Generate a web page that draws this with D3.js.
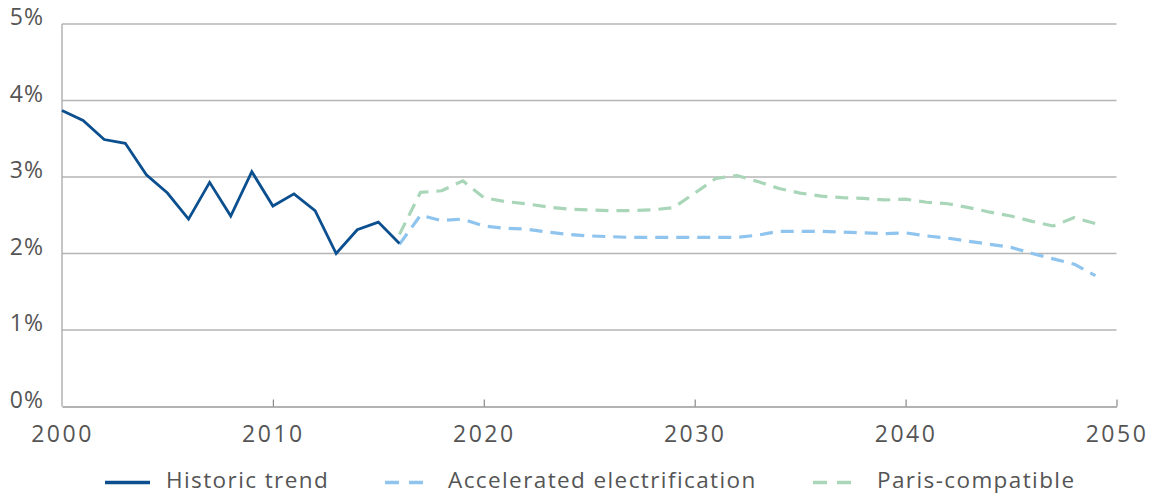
<!DOCTYPE html>
<html>
<head>
<meta charset="utf-8">
<script src="https://cdn.jsdelivr.net/npm/d3@7"></script>
<style>
  html, body { margin: 0; padding: 0; background: #fff; }
  svg { display: block; }
  text { font-family: "Open Sans", "Noto Sans", sans-serif; fill: #555; }
</style>
</head>
<body>
<svg id="chart" width="1157" height="497"></svg>
<script>
const historicYears = [2000,2001,2002,2003,2004,2005,2006,2007,2008,2009,2010,2011,2012,2013,2014,2015,2016];
const historicValues = [3.87,3.74,3.49,3.44,3.03,2.79,2.45,2.93,2.49,3.07,2.62,2.78,2.56,2.00,2.31,2.41,2.13];

const scenarioYears = [2016,2017,2018,2019,2020,2021,2022,2023,2024,2025,2026,2027,2028,2029,2030,2031,2032,2033,2034,2035,2036,2037,2038,2039,2040,2041,2042,2043,2044,2045,2046,2047,2048,2049];
const acceleratedValues = [2.12,2.50,2.43,2.45,2.36,2.33,2.32,2.28,2.25,2.23,2.22,2.21,2.21,2.21,2.21,2.21,2.21,2.24,2.29,2.29,2.29,2.28,2.27,2.26,2.27,2.23,2.20,2.16,2.12,2.08,2.00,1.93,1.86,1.71];
const parisValues = [2.25,2.80,2.82,2.95,2.73,2.68,2.65,2.61,2.58,2.57,2.56,2.56,2.57,2.60,2.79,2.98,3.02,2.94,2.85,2.79,2.75,2.73,2.72,2.70,2.71,2.67,2.65,2.60,2.54,2.49,2.42,2.36,2.47,2.39];

const xTicks = [2000,2010,2020,2030,2040,2050];
const yTicks = [0,1,2,3,4,5];
const yTickLabels = ["0%","1%","2%","3%","4%","5%"];

const seriesNames = ["Historic trend","Accelerated electrification","Paris-compatible"];
const seriesColors = ["#0b4f8f","#8ec4ee","#a9d6b8"];

const svg = d3.select("#chart");
const x = d3.scaleLinear().domain([2000, 2050]).range([62, 1116.5]);
const y = d3.scaleLinear().domain([0, 5]).range([406.5, 24]);

// gridlines
svg.append("g").selectAll("line").data(yTicks.filter(d => d > 0)).join("line")
  .attr("x1", x(2000)).attr("x2", x(2050))
  .attr("y1", d => y(d)).attr("y2", d => y(d))
  .attr("stroke", "#b5b5b5").attr("stroke-width", 1.3);

// left axis line
svg.append("line").attr("x1", x(2000)).attr("x2", x(2000))
  .attr("y1", y(5)).attr("y2", y(0)).attr("stroke", "#a8a8a8").attr("stroke-width", 1.3);

// bottom axis
const xAxis = d3.axisBottom(x).tickValues(xTicks).tickFormat(d3.format("d"))
  .tickSizeInner(-7).tickSizeOuter(0).tickPadding(25);
const gx = svg.append("g").attr("transform", `translate(0,${y(0)})`).call(xAxis);
gx.select(".domain").attr("stroke", "#999").attr("stroke-width", 1.5);
gx.selectAll(".tick line").attr("stroke", "#888").attr("stroke-width", 1.2)
  .filter(d => d === 2000).remove();
gx.selectAll(".tick text").attr("font-size", 23).attr("fill", "#555")
  .attr("font-family", "'Open Sans', sans-serif").attr("letter-spacing", 2.5).attr("dy", 0).attr("y", 35);

// y labels
svg.append("g").selectAll("text").data(yTicks).join("text")
  .attr("x", 44).attr("y", d => y(d) + 1)
  .attr("text-anchor", "end").attr("font-size", 23).attr("letter-spacing", 1)
  .text((d, i) => yTickLabels[i]);

// lines
const line = d3.line().x(d => x(d[0])).y(d => y(d[1]));
svg.append("path").datum(scenarioYears.map((yr, i) => [yr, parisValues[i]]))
  .attr("d", line).attr("fill", "none").attr("stroke", seriesColors[2])
  .attr("stroke-width", 3.2).attr("stroke-dasharray", "13,8").attr("stroke-linejoin", "round");
svg.append("path").datum(scenarioYears.map((yr, i) => [yr, acceleratedValues[i]]))
  .attr("d", line).attr("fill", "none").attr("stroke", seriesColors[1])
  .attr("stroke-width", 3.2).attr("stroke-dasharray", "13,8").attr("stroke-linejoin", "round");
svg.append("path").datum(historicYears.map((yr, i) => [yr, historicValues[i]]))
  .attr("d", line).attr("fill", "none").attr("stroke", seriesColors[0])
  .attr("stroke-width", 2.8).attr("stroke-linejoin", "miter");

// legend
const legendItems = [
  {name: seriesNames[0], color: seriesColors[0], x1: 105, x2: 150, tx: 166, dash: null},
  {name: seriesNames[1], color: seriesColors[1], x1: 385, x2: 427, tx: 448, dash: "14,10"},
  {name: seriesNames[2], color: seriesColors[2], x1: 813, x2: 852, tx: 877, dash: "14,10"}
];
const lg = svg.append("g");
legendItems.forEach(it => {
  lg.append("line").attr("x1", it.x1).attr("x2", it.x2).attr("y1", 482.5).attr("y2", 482.5)
    .attr("stroke", it.color).attr("stroke-width", 3.5)
    .attr("stroke-dasharray", it.dash);
  lg.append("text").attr("x", it.tx).attr("y", 488).attr("font-size", 22.5).attr("letter-spacing", 1.4)
    .text(it.name);
});
</script>
</body>
</html>
